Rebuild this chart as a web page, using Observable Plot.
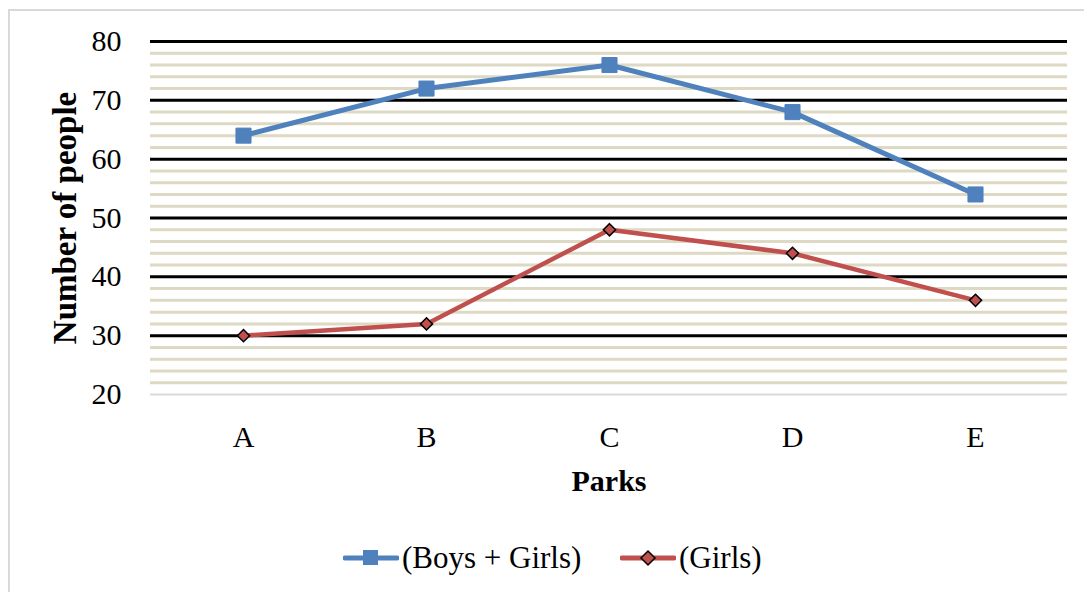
<!DOCTYPE html>
<html><head><meta charset="utf-8">
<script src="https://cdn.jsdelivr.net/npm/d3@7"></script>
<script src="https://cdn.jsdelivr.net/npm/@observablehq/plot@0.6"></script>
<style>
body{margin:0;background:#fff;overflow:hidden;width:1084px;height:592px;position:relative;font-family:"Liberation Serif",serif;}
#frame{position:absolute;left:8px;top:9px;width:1100px;height:620px;border:2px solid #d9d9d9;box-sizing:border-box;}
#chart{position:absolute;left:0;top:0;}
#legend{position:absolute;left:0;top:536px;width:1084px;height:44px;}
.lg{position:absolute;top:0;display:flex;align-items:center;height:44px;font-size:31px;color:#000;}
</style></head><body>
<div id="frame"></div>
<div id="chart"></div>
<div id="legend"></div>
<script>
const parks = ["A","B","C","D","E"];
const boysGirls = [64,72,76,68,54];
const girls = [30,32,48,44,36];
const yTicks = [20,30,40,50,60,70,80];
const minorTicks = [22,24,26,28,32,34,36,38,42,44,46,48,52,54,56,58,62,64,66,68,72,74,76,78];
const majorLines = [30,40,50,60,70,80];
const seriesNames = ["(Boys + Girls)","(Girls)"];

const blue = "#4f81bd", red = "#c0504d";
const dataBG = parks.map((p,i)=>({park:p, v:boysGirls[i]}));
const dataG = parks.map((p,i)=>({park:p, v:girls[i]}));

const plot = Plot.plot({
  width:1084, height:530,
  marginLeft:150, marginRight:17, marginTop:41, marginBottom:136,
  style:{fontFamily:"Liberation Serif, serif", background:"transparent", overflow:"visible"},
  x:{type:"point", domain:parks, padding:0.5, label:null},
  y:{domain:[20,80], label:null},
  marks:[
    Plot.ruleY(minorTicks,{stroke:"#ddd9c3", strokeWidth:3}),
    Plot.ruleY([20],{stroke:"#d9d9d9", strokeWidth:2}),
    Plot.ruleY(majorLines,{stroke:"#000", strokeWidth:3}),
    Plot.axisY({ticks:yTicks, tickSize:0, tickPadding:29, fontSize:30, label:null}),
    Plot.axisX({tickSize:0, tickPadding:31, fontSize:30, label:null}),
    Plot.text(["Parks"],{frameAnchor:"bottom", dy:96, fontSize:30, fontWeight:"bold", fill:"#000"}),
    Plot.text(["Number of people"],{frameAnchor:"left", textAnchor:"middle", dx:-85, rotate:-90, fontSize:33, fontWeight:"bold", fill:"#000"}),
    Plot.line(dataBG,{x:"park", y:"v", stroke:blue, strokeWidth:5}),
    Plot.dot(dataBG,{x:"park", y:"v", symbol:"square", r:8.5, fill:blue, stroke:blue, strokeWidth:1}),
    Plot.line(dataG,{x:"park", y:"v", stroke:red, strokeWidth:4.5}),
    Plot.dot(dataG,{x:"park", y:"v", symbol:"diamond2", r:5.5, fill:red, stroke:"#000", strokeWidth:1.5})
  ]
});
document.getElementById("chart").appendChild(plot);

function swatch(color, sym){
  const s = d3.create("svg").attr("width",56).attr("height",30);
  s.append("line").attr("x1",2).attr("x2",54).attr("y1",15).attr("y2",15).attr("stroke",color).attr("stroke-width",5).attr("stroke-linecap","round");
  if(sym==="square") s.append("rect").attr("x",20).attr("y",7).attr("width",15).attr("height",15).attr("fill",color);
  else s.append("path").attr("d","M28,8L35,15L28,22L21,15Z").attr("fill",red).attr("stroke","#000").attr("stroke-width",1.5);
  return s.node();
}
const lg = document.getElementById("legend");
[[seriesNames[0],blue,"square",343],[seriesNames[1],red,"diamond",620]].forEach(([name,c,sym,left])=>{
  const d = document.createElement("div"); d.className="lg"; d.style.left=left+"px";
  d.appendChild(swatch(c,sym));
  const t = document.createElement("span"); t.textContent=name; t.style.marginLeft="3px";
  d.appendChild(t); lg.appendChild(d);
});
</script>
</body></html>
